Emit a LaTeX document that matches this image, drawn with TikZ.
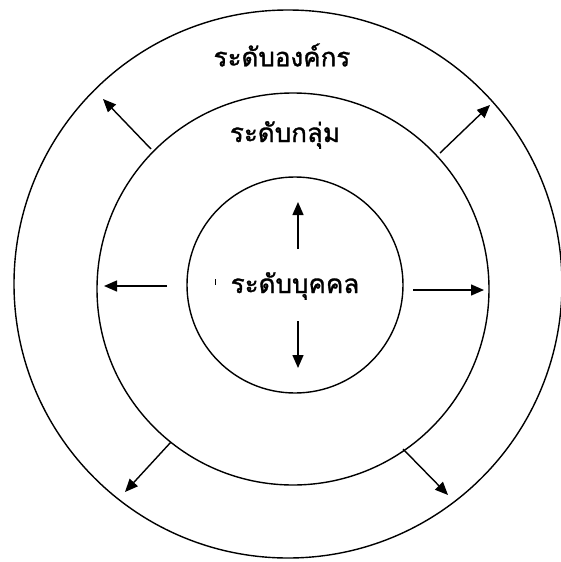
\documentclass[tikz,border=0pt]{standalone}
\usepackage{fontspec}
\newfontfamily\thaifont[Script=Thai,FakeBold=1.2]{Loma}
\usetikzlibrary{arrows.meta}
\begin{document}
\begin{tikzpicture}[x=1pt,y=-1pt,
  ring/.style={draw=black,line width=1.4pt,circle,inner sep=0pt},
  lbl/.style={font=\thaifont\fontsize{26}{30}\selectfont,inner sep=0pt},
  arr/.style={line width=1.4pt,-{Triangle[length=13pt,width=11pt]}}]
\useasboundingbox (0,0) rectangle (561,562);
\node[ring,minimum size=548pt] (outer) at (288,284) {};
\node[ring,minimum size=392pt] (middle) at (293,289) {};
\node[ring,minimum size=216pt] (inner) at (295,285) {};
\node[lbl] (t1) at (282,55) {ระดับองค์กร};
\node[lbl] (t2) at (285,135) {ระดับกลุ่ม};
\node[lbl] (t3) at (295,286) {ระดับบุคคล};
\draw[line width=0.8pt] (215,279) -- (215,285);
\coordinate (us) at (298,249); \coordinate (ue) at (298,202);
\coordinate (ds) at (298,321); \coordinate (de) at (298,368);
\coordinate (ls) at (167,286); \coordinate (le) at (104,286);
\coordinate (rs) at (413,290); \coordinate (re) at (484,290);
\coordinate (uls) at (151,149); \coordinate (ule) at (103,99);
\coordinate (urs) at (440,153); \coordinate (ure) at (490,105);
\coordinate (lls) at (171,442); \coordinate (lle) at (125,492);
\coordinate (lrs) at (403,449); \coordinate (lre) at (448,495);
\draw[arr] (us) -- (ue);
\draw[arr] (ds) -- (de);
\draw[arr] (ls) -- (le);
\draw[arr] (rs) -- (re);
\draw[arr] (uls) -- (ule);
\draw[arr] (urs) -- (ure);
\draw[arr] (lls) -- (lle);
\draw[arr] (lrs) -- (lre);
\end{tikzpicture}
\end{document}
